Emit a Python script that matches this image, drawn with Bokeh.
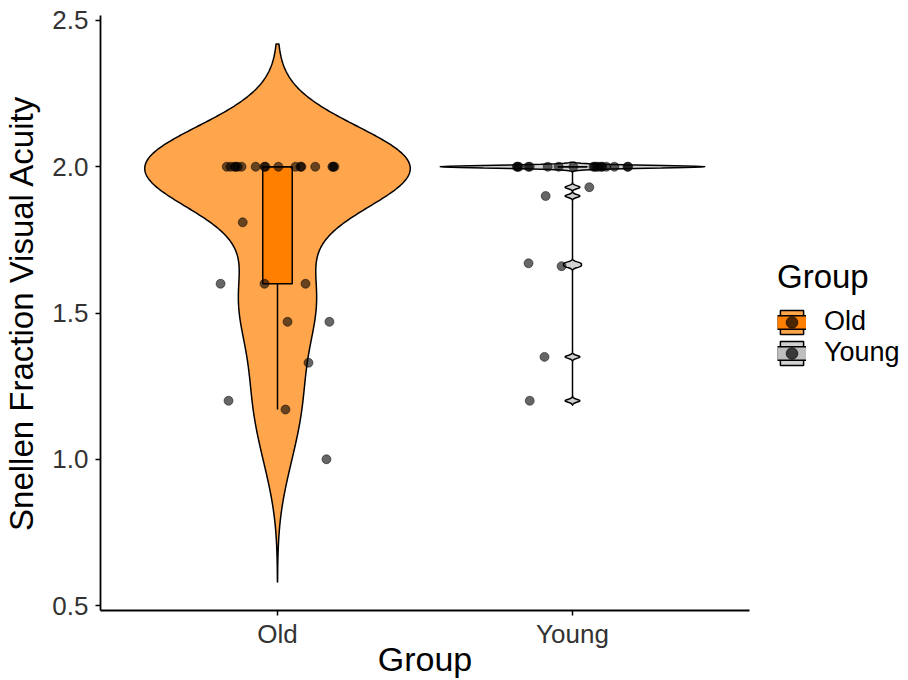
import numpy as np
from bokeh.plotting import figure
from bokeh.layouts import row
from bokeh.models import Range1d, FixedTicker, Legend, LegendItem
from bokeh.embed import file_html
from bokeh.resources import INLINE

# ---------------- data ----------------
groups = ["Old", "Young"]
group_pos = [1, 2]

old_values = [2.00, 2.00, 2.00, 2.00, 2.00, 2.00, 2.00, 2.00, 2.00, 2.00, 2.00, 2.00,
              2.00, 2.00, 2.00, 2.00, 2.00,
              1.81, 1.60, 1.60, 1.60, 1.47, 1.47, 1.33, 1.20, 1.17, 1.00]
old_jitter = [-0.172, -0.159, -0.145, -0.142, -0.135, -0.122, -0.074, -0.044, -0.041,
              0.003, 0.061, 0.078, 0.081, 0.128, 0.186, 0.189, 0.193,
              -0.118, -0.193, -0.044, 0.095, 0.034, 0.176, 0.105, -0.166, 0.027, 0.166]

young_values = [2.00, 2.00, 2.00, 2.00, 2.00, 2.00, 2.00, 2.00, 2.00, 2.00, 2.00, 2.00,
                2.00, 2.00, 2.00, 2.00, 2.00, 2.00,
                1.93, 1.90, 1.67, 1.66, 1.35, 1.20]
young_jitter = [-0.189, -0.186, -0.182, -0.145, -0.084, -0.047, 0.003, 0.071, 0.081,
                0.088, 0.098, 0.101, 0.115, 0.142, 0.186, 0.189, -0.150, 0.075,
                0.057, -0.091, -0.149, -0.037, -0.095, -0.145]

# box-plot statistics per group
box_whisker_low = [1.17, 2.00]
box_q1 = [1.60, 2.00]
box_median = [2.00, 2.00]
box_q3 = [2.00, 2.00]
box_whisker_high = [2.00, 2.00]

# violin kernel bandwidths per group
violin_bw = [0.14, 0.005]

y_ticks = [0.5, 1.0, 1.5, 2.0, 2.5]
y_tick_labels = ["0.5", "1.0", "1.5", "2.0", "2.5"]

violin_fill = ["#FF7F00", "#BEBEBE"]
box_fill = ["#FF7F00", "#BEBEBE"]

FONT = "Liberation Sans"

# ---------------- main figure ----------------
p = figure(width=760, height=680,
           x_range=Range1d(0.4, 2.6), y_range=Range1d(0.483, 2.517),
           output_backend="svg", toolbar_location=None,
           min_border_left=97, min_border_right=11,
           min_border_top=15, min_border_bottom=70,
           background_fill_color="white", border_fill_color="white")
p.outline_line_color = None
p.xgrid.visible = False
p.ygrid.visible = False


def violin_outline(vals, bw, center, n=512):
    v = np.asarray(vals, dtype=float)
    grid = np.linspace(v.min() - 3 * bw, v.max() + 3 * bw, n)
    d = np.exp(-0.5 * ((grid[:, None] - v[None, :]) / bw) ** 2).sum(axis=1)
    w = 0.45 * d / d.max()
    xs = np.concatenate([center - w, (center + w)[::-1]])
    ys = np.concatenate([grid, grid[::-1]])
    return xs, ys


all_values = [old_values, young_values]
all_jitter = [old_jitter, young_jitter]
outlines = [violin_outline(all_values[i], violin_bw[i], group_pos[i])
            for i in range(len(groups))]

for i, g in enumerate(groups):
    xs, ys = outlines[i]
    p.patch(xs, ys, fill_color=violin_fill[i], fill_alpha=0.7,
            line_color="black", line_width=1.5)

# boxes
half_box = 0.05
p.segment(x0=group_pos, y0=box_q1, x1=group_pos, y1=box_whisker_low,
          line_color="black", line_width=1.5)
p.segment(x0=group_pos, y0=box_q3, x1=group_pos, y1=box_whisker_high,
          line_color="black", line_width=1.5)
p.quad(left=[c - half_box for c in group_pos], right=[c + half_box for c in group_pos],
       bottom=box_q1, top=box_q3, fill_color=box_fill, line_color="black", line_width=1.5)
p.segment(x0=[c - half_box for c in group_pos], y0=box_median,
          x1=[c + half_box for c in group_pos], y1=box_median,
          line_color="black", line_width=1.5)

# jittered points
jx = [[group_pos[i] + j for j in all_jitter[i]] for i in range(len(groups))]
for i, g in enumerate(groups):
    p.scatter(jx[i], all_values[i], size=9, marker="circle", fill_color="black",
              fill_alpha=0.6, line_color="black", line_alpha=0.6, line_width=0.8)

# axes
for ax in (p.xaxis[0], p.yaxis[0]):
    ax.axis_line_color = "black"
    ax.axis_line_width = 1.8
    ax.major_tick_line_color = "black"
    ax.major_tick_line_width = 1.5
    ax.major_tick_out = 5
    ax.major_tick_in = 0
    ax.minor_tick_line_color = None
    ax.major_label_text_font = FONT
    ax.major_label_text_font_size = "26px"
    ax.major_label_text_color = "#333333"

p.yaxis.ticker = FixedTicker(ticks=y_ticks)
p.yaxis.major_label_overrides = {t: l for t, l in zip(y_ticks, y_tick_labels)}
p.yaxis.major_label_standoff = 7
p.yaxis.axis_label = "Snellen Fraction Visual Acuity"
p.yaxis.axis_label_text_font = FONT
p.yaxis.axis_label_text_font_size = "33px"
p.yaxis.axis_label_text_font_style = "normal"
p.yaxis.axis_label_text_color = "black"
p.yaxis.axis_label_standoff = 9

p.xaxis.ticker = FixedTicker(ticks=group_pos)
p.xaxis.major_label_overrides = {gp: g for gp, g in zip(group_pos, groups)}
p.xaxis.major_label_standoff = 3
p.xaxis.axis_label = "Group"
p.xaxis.axis_label_text_font = FONT
p.xaxis.axis_label_text_font_size = "34px"
p.xaxis.axis_label_text_font_style = "normal"
p.xaxis.axis_label_text_color = "black"
p.xaxis.axis_label_standoff = -12

# ---------------- legend panel (second figure, glyphs only drawn in the legend) ----------------
lf = figure(width=148, height=680, output_backend="svg", toolbar_location=None,
            x_range=Range1d(0.4, 2.6), y_range=Range1d(0.483, 2.517),
            x_axis_location=None, y_axis_location=None,
            min_border_left=0, min_border_right=0, min_border_top=0, min_border_bottom=0,
            background_fill_color="white", border_fill_color="white")
lf.outline_line_color = None
lf.grid.visible = False

items = []
for i, g in enumerate(groups):
    xs, ys = outlines[i]
    r_v = lf.patch(xs, ys, fill_color=violin_fill[i], fill_alpha=0.7,
                   line_color="black", line_width=1.5)
    r_b0 = lf.line([group_pos[i], group_pos[i]], [box_q1[i], box_q3[i]],
                   line_color="black", line_width=15, line_cap="butt")
    r_b1 = lf.line([group_pos[i], group_pos[i]], [box_q1[i], box_q3[i]],
                   line_color=box_fill[i], line_width=12, line_cap="butt")
    r_p = lf.scatter(jx[i], all_values[i], marker="circle", fill_color="black",
                     fill_alpha=0.7, line_color="black", line_alpha=0.7)
    for r in (r_v, r_b0, r_b1, r_p):
        r.visible = False
    items.append(LegendItem(label=g, renderers=[r_v, r_b0, r_b1, r_p]))

legend = Legend(items=items, location=(17, 242), title="Group",
                title_text_font=FONT, title_text_font_size="33px",
                title_text_font_style="normal", title_text_color="black",
                title_standoff=10,
                label_text_font=FONT, label_text_font_size="27px", label_text_color="black",
                glyph_width=29, glyph_height=30, label_standoff=18, spacing=0,
                padding=0, margin=0, border_line_alpha=0, background_fill_alpha=0,
                inactive_fill_alpha=0, click_policy="none")
lf.add_layout(legend, "center")

layout = row(p, lf, spacing=0)
open("out.html", "w").write(file_html(layout, INLINE))
